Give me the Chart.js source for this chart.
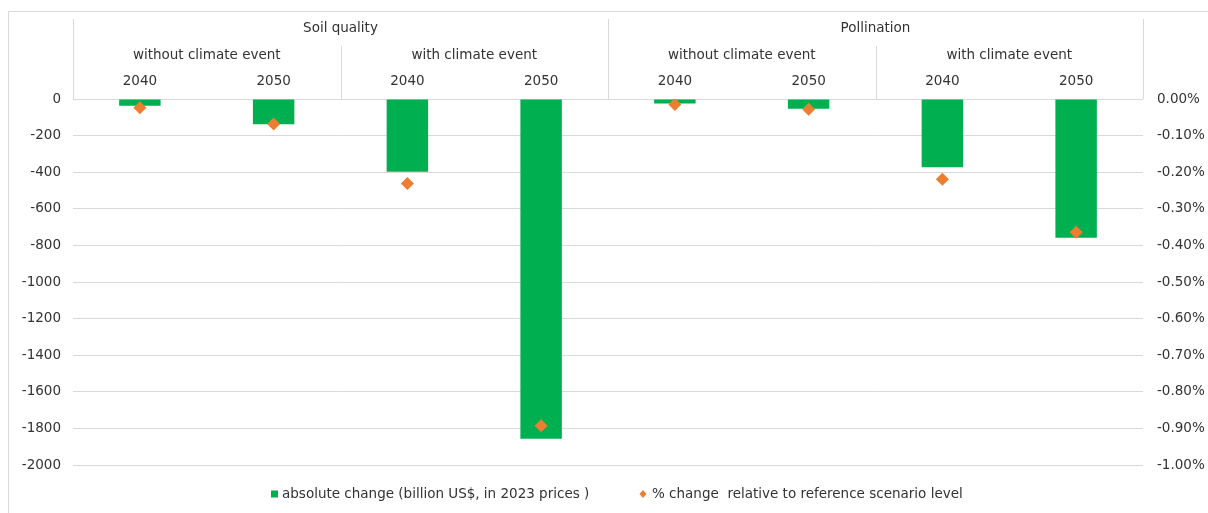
<!DOCTYPE html>
<html>
<head>
<meta charset="utf-8">
<script src="https://cdn.jsdelivr.net/npm/chart.js@4/dist/chart.umd.min.js"></script>
<style>
  html, body { margin: 0; padding: 0; background: #fff; }
</style>
</head>
<body>
<canvas id="chart" width="1208" height="513"></canvas>
<script>
// categories (three header levels)
const groups = ['Soil quality', 'Pollination'];
const scenarios = ['without climate event', 'with climate event'];
const years = ['2040', '2050', '2040', '2050', '2040', '2050', '2040', '2050'];

// series values
const absChange = [-37, -138, -397, -1856, -24, -53, -373, -758];    // billion US$
const pctChange = [-0.024, -0.068, -0.231, -0.893, -0.015, -0.028, -0.219, -0.364]; // %

// axis ranges
const absMin = -2000, absMax = 0, absStep = 200;
const pctMin = -1, pctMax = 0, pctStep = 0.1;

const seriesNames = [
    'absolute change (billion US$, in 2023 prices )',
    '% change  relative to reference scenario level'
];

const textColor = '#333333';
const lineColor = '#d9d9d9';
const fontFamily = '"DejaVu Sans", Verdana, sans-serif';
const fontSize = 13.5;

// draws the three-level category header above the plot, plus frame and legend
const headerPlugin = {
    id: 'header',
    afterDraw(chart) {
        const ctx = chart.ctx;
        const x = chart.scales.x;
        const top = chart.chartArea.top;
        const half = (x.getPixelForValue(1) - x.getPixelForValue(0)) / 2;
        const edge = i => i < years.length ? x.getPixelForValue(i) - half : x.getPixelForValue(i - 1) + half;

        ctx.save();
        ctx.strokeStyle = lineColor;
        ctx.lineWidth = 1;

        // outer frame (left + top only visible)
        ctx.beginPath();
        ctx.moveTo(8.5, 513);
        ctx.lineTo(8.5, 11.5);
        ctx.lineTo(1208, 11.5);
        ctx.stroke();

        // group separators
        [0, 4, 8].forEach(i => {
            const px = Math.round(edge(i)) + 0.5;
            ctx.beginPath();
            ctx.moveTo(px, 19);
            ctx.lineTo(px, top);
            ctx.stroke();
        });
        // scenario separators
        [2, 6].forEach(i => {
            const px = Math.round(edge(i)) + 0.5;
            ctx.beginPath();
            ctx.moveTo(px, 46);
            ctx.lineTo(px, top);
            ctx.stroke();
        });

        ctx.fillStyle = textColor;
        ctx.font = fontSize + 'px ' + fontFamily;
        ctx.textAlign = 'center';
        ctx.textBaseline = 'middle';

        groups.forEach((g, gi) => {
            ctx.fillText(g, (edge(gi * 4) + edge(gi * 4 + 4)) / 2, 28);
        });
        for (let s = 0; s < 4; s++) {
            ctx.fillText(scenarios[s % 2], (edge(s * 2) + edge(s * 2 + 2)) / 2, 55);
        }
        years.forEach((y, i) => {
            ctx.fillText(y, x.getPixelForValue(i), 81);
        });

        // legend
        const ly = 494;
        ctx.textAlign = 'left';
        ctx.fillStyle = '#00B050';
        ctx.fillRect(271, ly - 3.5, 7, 7);
        ctx.fillStyle = textColor;
        ctx.fillText(seriesNames[0], 282, ly);

        const dx = 643;
        ctx.fillStyle = '#ED7D31';
        ctx.beginPath();
        ctx.moveTo(dx, ly - 4);
        ctx.lineTo(dx + 3.5, ly);
        ctx.lineTo(dx, ly + 4);
        ctx.lineTo(dx - 3.5, ly);
        ctx.closePath();
        ctx.fill();
        ctx.fillStyle = textColor;
        ctx.fillText(seriesNames[1], 652, ly);

        ctx.restore();
    }
};

new Chart(document.getElementById('chart'), {
    data: {
        labels: years,
        datasets: [
            {
                type: 'line',
                label: seriesNames[1],
                data: pctChange,
                yAxisID: 'y1',
                showLine: false,
                pointStyle: 'rectRot',
                pointRadius: 6.5,
                pointBackgroundColor: '#ED7D31',
                pointBorderColor: '#ED7D31',
                pointBorderWidth: 0,
                order: 0
            },
            {
                type: 'bar',
                label: seriesNames[0],
                data: absChange,
                yAxisID: 'y',
                backgroundColor: '#00B050',
                borderWidth: 0,
                barPercentage: 0.31,
                categoryPercentage: 1,
                order: 1
            }
        ]
    },
    options: {
        responsive: false,
        animation: false,
        layout: { padding: { top: 99, bottom: 48, left: 0, right: 0 } },
        plugins: {
            legend: { display: false },
            tooltip: { enabled: false }
        },
        scales: {
            x: {
                display: false,
                offset: true
            },
            y: {
                position: 'left',
                min: absMin,
                max: absMax,
                afterFit: s => { s.width = 73; },
                border: { display: false },
                grid: { color: lineColor, drawTicks: false },
                ticks: {
                    stepSize: absStep,
                    padding: 12,
                    color: textColor,
                    font: { family: fontFamily, size: fontSize },
                    callback: v => String(v)
                }
            },
            y1: {
                position: 'right',
                min: pctMin,
                max: pctMax,
                afterFit: s => { s.width = 65; },
                border: { display: false },
                grid: { display: false, drawTicks: false },
                ticks: {
                    stepSize: pctStep,
                    padding: 14,
                    color: textColor,
                    font: { family: fontFamily, size: fontSize },
                    callback: v => v.toFixed(2) + '%'
                }
            }
        }
    },
    plugins: [headerPlugin]
});
</script>
</body>
</html>
